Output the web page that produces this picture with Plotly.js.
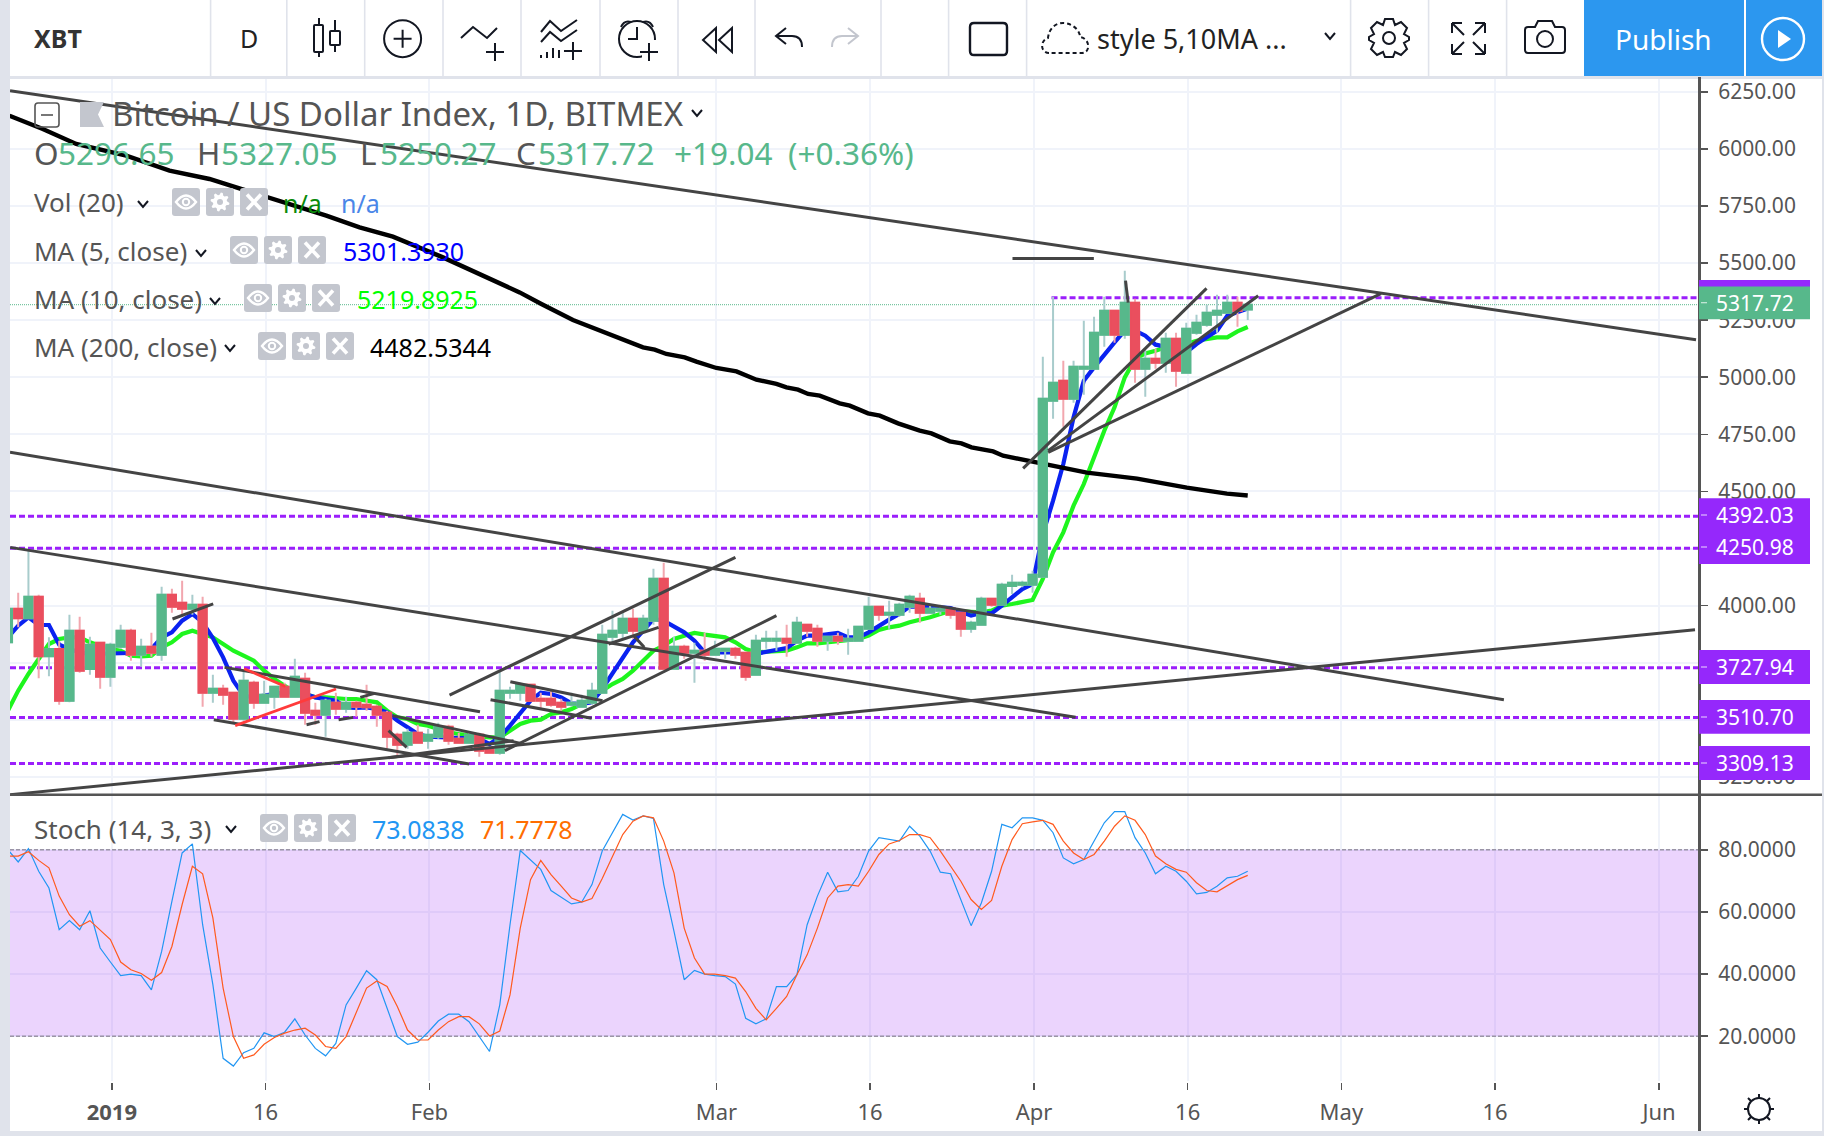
<!DOCTYPE html>
<html><head><meta charset="utf-8">
<script src="https://cdn.plot.ly/plotly-3.0.1.min.js"></script>
<style>html,body{margin:0;padding:0;background:#fff;overflow:hidden}</style></head>
<body><div id="chart" style="width:1824px;height:1136px"></div>
<script>
const dates=["2018-12-22","2018-12-23","2018-12-24","2018-12-25","2018-12-26","2018-12-27","2018-12-28","2018-12-29","2018-12-30","2018-12-31",
"2019-01-01","2019-01-02","2019-01-03","2019-01-04","2019-01-05","2019-01-06","2019-01-07","2019-01-08","2019-01-09","2019-01-10","2019-01-11","2019-01-12","2019-01-13","2019-01-14","2019-01-15","2019-01-16","2019-01-17","2019-01-18","2019-01-19","2019-01-20","2019-01-21","2019-01-22","2019-01-23","2019-01-24","2019-01-25","2019-01-26","2019-01-27","2019-01-28","2019-01-29","2019-01-30","2019-01-31",
"2019-02-01","2019-02-02","2019-02-03","2019-02-04","2019-02-05","2019-02-06","2019-02-07","2019-02-08","2019-02-09","2019-02-10","2019-02-11","2019-02-12","2019-02-13","2019-02-14","2019-02-15","2019-02-16","2019-02-17","2019-02-18","2019-02-19","2019-02-20","2019-02-21","2019-02-22","2019-02-23","2019-02-24","2019-02-25","2019-02-26","2019-02-27","2019-02-28",
"2019-03-01","2019-03-02","2019-03-03","2019-03-04","2019-03-05","2019-03-06","2019-03-07","2019-03-08","2019-03-09","2019-03-10","2019-03-11","2019-03-12","2019-03-13","2019-03-14","2019-03-15","2019-03-16","2019-03-17","2019-03-18","2019-03-19","2019-03-20","2019-03-21","2019-03-22","2019-03-23","2019-03-24","2019-03-25","2019-03-26","2019-03-27","2019-03-28","2019-03-29","2019-03-30","2019-03-31",
"2019-04-01","2019-04-02","2019-04-03","2019-04-04","2019-04-05","2019-04-06","2019-04-07","2019-04-08","2019-04-09","2019-04-10","2019-04-11","2019-04-12","2019-04-13","2019-04-14","2019-04-15","2019-04-16","2019-04-17","2019-04-18","2019-04-19","2019-04-20","2019-04-21","2019-04-22"];
const opens=[3839.5,3986.9,3944.6,4039.4,3778.2,3810.3,3584.1,3890.6,3722.8,3838.1,
3689.2,3820.5,3890.6,3785.5,3820.5,3785.5,4048.2,4013.2,3986.9,4004.4,3619.1,3636.7,3619.1,3505.3,3662.9,3575.4,3601.6,3645.4,3601.6,3680.4,3540.3,3522.8,3575.4,3549.1,3575.4,3566.6,3557.8,3531.6,3435.3,3391.5,3444.0,
3409.0,3426.5,3470.3,3417.8,3400.2,3435.3,3374.0,3356.5,3619.1,3619.1,3654.2,3592.9,3592.9,3575.4,3566.6,3557.8,3575.4,3619.1,3864.3,3881.8,3943.1,3890.6,3934.4,4118.3,3724.2,3820.5,3794.3,3803.0,
3785.5,3803.0,3811.8,3794.3,3698.0,3846.8,3846.8,3855.6,3838.1,3916.9,3899.4,3846.8,3864.3,3846.8,3846.8,3899.4,3995.7,3960.6,3960.6,3995.7,4030.7,3969.4,3978.2,3986.9,3969.4,3899.4,3916.9,4030.7,4004.4,4086.1,4091.9,
4091.9,4126.9,4897.5,4985.1,4906.2,5037.6,5037.6,5186.5,5291.5,5186.5,5326.6,5037.6,5081.4,5063.9,5168.9,5020.1,5195.2,5230.2,5274.0,5282.8,5326.6,5296.65];
const highs=[3986.9,4057.0,4240.9,4048.2,3861.4,3846.8,3960.6,3951.9,3864.3,3838.1,
3838.1,3916.9,3899.4,3855.6,3881.8,4083.2,4074.5,4109.5,4048.2,4039.4,3698.0,3654.2,3619.1,3715.5,3671.7,3671.7,3645.4,3662.9,3768.0,3706.7,3575.4,3592.9,3619.1,3601.6,3584.1,3654.2,3566.6,3540.3,3444.0,3461.5,3479.0,
3461.5,3487.8,3479.0,3444.0,3444.0,3444.0,3382.7,3715.5,3645.4,3662.9,3654.2,3619.1,3627.9,3592.9,3619.1,3610.4,3662.9,3916.9,3978.2,3969.4,3986.9,3960.6,4162.0,4188.3,3864.3,3829.3,3838.1,3881.8,
3846.8,3811.8,3820.5,3794.3,3873.1,3890.6,3890.6,3916.9,3951.9,3916.9,3916.9,3864.3,3881.8,3899.4,3908.1,4039.4,3995.7,4021.9,4013.2,4048.2,4057.0,4004.4,4004.4,3986.9,3969.4,3934.4,4039.4,4030.7,4100.8,4135.7,4109.4,
4153.2,5090.1,5352.8,5072.6,5072.6,5247.7,5265.3,5352.8,5291.5,5466.7,5344.1,5125.2,5125.2,5195.2,5195.2,5239.0,5274.0,5317.8,5361.6,5361.6,5352.8,5327.05];
const lows=[3839.5,3905.2,3944.6,3681.9,3690.7,3566.6,3576.8,3706.7,3698.0,3636.7,
3645.4,3811.8,3759.3,3733.0,3776.8,3759.3,3969.4,3951.9,3960.6,3557.8,3575.4,3566.6,3487.8,3496.6,3549.1,3575.4,3549.1,3601.6,3601.6,3479.0,3479.0,3426.5,3522.8,3531.6,3514.1,3540.3,3470.3,3374.0,3339.0,3374.0,3400.2,
3374.0,3417.8,3391.5,3400.2,3400.2,3339.0,3356.5,3347.7,3592.9,3584.1,3584.1,3549.1,3557.8,3540.3,3557.8,3557.8,3566.6,3619.1,3829.3,3855.6,3855.6,3881.8,3916.9,3724.2,3724.2,3768.0,3662.9,3759.3,
3785.5,3768.0,3768.0,3671.7,3698.0,3811.8,3803.0,3776.8,3838.1,3864.3,3820.5,3803.0,3829.3,3785.5,3846.8,3899.4,3934.4,3899.4,3951.9,3969.4,3925.6,3969.4,3960.6,3943.1,3864.3,3881.8,3916.9,3995.7,4004.4,4051.0,4080.2,
4056.9,4126.9,4818.7,4783.7,4888.7,4923.8,5037.6,5133.9,5151.4,5168.9,4976.3,4915.0,5037.6,5020.1,4958.8,5020.1,5186.5,5221.5,5195.2,5282.8,5221.5,5250.27];
const closes=[3986.9,3944.6,4039.4,3778.2,3810.3,3584.1,3890.6,3715.5,3829.3,3689.2,
3829.3,3890.6,3785.5,3820.5,3794.3,4048.2,3995.7,3986.9,4004.4,3619.1,3636.7,3610.4,3505.3,3671.7,3575.4,3610.4,3645.4,3601.6,3689.2,3531.6,3522.8,3584.1,3549.1,3575.4,3557.8,3555.0,3522.8,3426.5,3391.5,3444.0,3400.2,
3435.3,3470.3,3409.0,3400.2,3435.3,3365.2,3356.5,3627.9,3627.9,3654.2,3584.1,3584.1,3566.6,3557.8,3575.4,3584.1,3627.9,3873.1,3890.6,3943.1,3890.6,3943.1,4118.3,3724.2,3820.5,3794.3,3803.0,3785.5,
3811.8,3811.8,3785.5,3689.2,3846.8,3855.6,3855.6,3838.1,3925.6,3890.6,3846.8,3864.3,3846.8,3855.6,3908.1,3995.7,3960.6,3969.4,4004.4,4039.4,3969.4,3986.9,3986.9,3960.6,3899.4,3925.6,4030.7,4004.4,4092.0,4100.7,4100.7,
4135.7,4906.2,4976.3,4906.2,5046.3,5046.3,5195.2,5291.5,5186.5,5326.6,5037.6,5081.4,5063.9,5168.9,5028.8,5212.7,5239.0,5282.8,5291.5,5326.6,5291.5,5317.72];
const ma5=[3861.4,3912.5,3949.0,3915.4,3915.4,3829.3,3810.3,3795.7,3788.4,3788.4,
3791.4,3791.4,3792.8,3795.7,3810.3,3861.4,3883.3,3934.4,3963.6,3927.1,3858.5,3773.8,3671.7,3606.0,3598.7,3606.0,3613.3,3620.6,3620.6,3613.3,3598.7,3591.4,3584.1,3554.9,3552.0,3554.9,3547.6,3533.0,3496.6,3467.4,3438.2,
3426.5,3423.6,3420.7,3420.7,3420.7,3416.3,3394.4,3423.6,3474.7,3533.0,3584.1,3619.1,3613.3,3598.7,3572.5,3569.5,3576.8,3635.2,3700.9,3773.8,3839.5,3890.6,3941.7,3934.4,3908.1,3883.3,3846.8,3795.7,
3795.7,3795.7,3795.7,3781.1,3788.4,3798.6,3805.9,3814.7,3846.8,3868.7,3868.7,3873.1,3880.4,3861.4,3861.4,3883.3,3912.5,3938.8,3963.6,3995.7,3995.7,3995.7,3992.8,3989.8,3970.9,3956.3,3968.0,3966.5,4000.1,4036.4,4072.9,
4094.8,4313.7,4459.7,4620.2,4824.5,4985.1,5043.4,5101.8,5152.9,5204.0,5204.0,5182.1,5142.7,5133.9,5109.1,5109.1,5145.6,5174.8,5204.0,5269.6,5284.2,5301.39];
const ma10=[3540.3,3627.9,3700.9,3766.6,3832.2,3854.1,3861.4,3861.4,3839.5,3824.9,
3810.3,3803.0,3781.1,3778.2,3781.1,3817.6,3839.5,3876.0,3890.6,3876.0,3861.4,3832.2,3803.0,3781.1,3759.3,3715.5,3679.0,3649.8,3620.6,3613.3,3598.7,3598.7,3594.3,3591.4,3591.4,3584.1,3576.8,3540.3,3511.2,3503.9,3482.0,
3474.7,3460.1,3445.5,3438.2,3430.9,3426.5,3423.6,3423.6,3452.8,3482.0,3496.6,3500.9,3525.7,3533.0,3547.6,3569.5,3591.4,3627.9,3657.1,3679.0,3715.5,3759.3,3803.0,3824.9,3854.1,3868.7,3880.4,3873.1,
3865.8,3861.4,3839.5,3810.3,3795.7,3798.6,3800.1,3803.0,3817.6,3835.2,3835.2,3839.5,3843.9,3849.7,3854.1,3868.7,3893.5,3905.2,3912.5,3927.1,3937.3,3949.0,3963.6,3978.2,3975.2,3970.9,3970.9,3978.2,4000.1,4007.3,4014.6,
4024.8,4116.7,4233.5,4321.0,4437.8,4532.6,4649.4,4766.1,4868.3,4999.6,5079.9,5104.7,5116.4,5131.0,5138.3,5145.6,5160.2,5167.5,5174.8,5174.8,5201.0,5219.89];
// day offset from 2019-01-01
const ma200Days=[-9.85,-6.6,-3.34,1.54,5.77,9.67,12.28,16.19,21.07,24.32,27.57,32.45,36.69,39.94,42.06,45.14,51.98,53.12,54.26,56.05,57.19,59.14,61.1,63.05,65,65.98,67.11,68.09,69.23,71.18,72.16,73.94,75.09,76.87,78.99,80.13,81.92,83.06,84.04,86.15,87.12,90.54,95.3,100.2,105.06,108.97,111];
const ma200=[6145.3,6087,6021.4,5970.2,5904.5,5868.2,5831.4,5776.2,5707.5,5656.3,5615.5,5524.9,5437.4,5371.7,5320.9,5250.9,5130.9,5120.8,5102,5087.1,5068.3,5040.7,5025.8,4989.5,4970.7,4955.8,4945.7,4926.9,4919.4,4885.7,4875.7,4841.9,4831.9,4798.2,4766.2,4754.4,4719.4,4710.6,4693.1,4675.6,4656.8,4627.4,4582.3,4556,4516.7,4490.4,4482.53];
const stochK=[80.0,76.1,80.4,73.1,67.7,54.3,57.2,54.3,60.4,48.4,
43.9,39.5,40.0,39.5,34.9,47.3,63.4,79.0,81.9,55.9,36.6,12.9,10.4,14.7,16.1,21.1,19.9,21.3,25.6,20.4,16.1,13.7,17.7,30.1,35.5,41.1,38.2,29.0,19.9,17.4,18.1,
21.3,24.9,27.1,27.1,24.7,19.9,15.1,30.1,55.9,79.8,76.9,73.7,66.9,64.7,62.6,63.2,68.8,79.6,85.5,91.4,89.6,90.9,90.1,68.8,53.8,38.2,41.2,40.0,
39.5,39.2,36.8,25.8,24.0,25.6,36.0,36.0,39.8,55.9,65.1,72.8,66.5,66.9,71.5,79.6,83.9,83.3,82.8,87.6,84.4,79.6,72.8,72.3,64.0,55.6,62.9,73.1,88.2,87.1,90.3,
90.3,89.5,85.5,77.4,75.5,76.9,82.8,88.7,92.3,92.3,83.9,79.0,72.3,74.7,73.1,69.9,65.8,66.3,68.3,71.0,71.5,73.08];
const stochD=[78.0,78.0,79.4,76.6,74.2,65.1,59.1,55.4,57.2,54.3,
51.1,43.9,41.4,40.2,38.0,40.5,48.9,62.4,74.7,72.3,58.1,35.5,19.9,12.9,14.0,17.4,19.6,21.0,22.0,22.6,20.4,16.7,16.1,19.9,27.4,35.5,37.8,36.0,29.6,22.0,18.8,
18.8,22.0,24.7,26.3,26.3,24.0,20.1,21.7,33.3,54.8,70.4,76.6,72.0,68.3,64.5,63.2,64.3,70.8,78.0,84.9,89.2,90.9,90.3,82.8,72.6,54.8,45.2,40.0,
40.0,39.5,38.7,34.4,29.0,25.3,29.0,32.8,39.8,46.2,54.8,64.5,68.3,68.8,68.3,73.1,78.5,81.9,83.0,84.9,84.9,83.9,79.6,74.7,69.9,64.0,60.8,63.7,74.7,83.3,88.4,
89.0,89.5,88.2,82.8,79.0,76.9,78.5,82.8,87.6,90.9,89.5,84.9,78.0,75.5,73.7,72.8,69.4,66.9,66.5,68.5,70.4,71.78];
// trend lines drawn on the chart: day offset from 2019-01-01 and price at both ends
const trendNames=["L1","L2","L3","L4","a","b","c","d","e","f","h","i","j","m","n","d1","d2","d3","d4","p","q","r","s","t"];
const trendDay0=[-9.8,-9.8,-9.78,-9.78,33.1,38.5,39.03,37.1,48.63,51.07,6.06,11.14,10.09,27.15,27.54,19.14,22.27,24.39,27.15,88.04,89.08,91.52,91.52,99.07];
const trendVal0=[6254.8,4672.1,4255.3,3172.6,3608.3,3365.2,3667.3,3588.5,3832.4,3868.7,3941.8,3729.9,3500.9,3334.6,3518.5,3479,3500.9,3598.6,3452.8,5520.5,4601.2,4678.7,4671.2,5422.9];
const trendDay1=[154.75,136,94.2,154.65,61,65,48.03,46.97,53.5,52.1,10.03,36.07,35.02,39.35,40.04,20.41,23.69,25.78,28.91,95.98,106.98,112.02,124,99.33];
const trendVal1=[5164.6,3588.5,3511.5,3895,4211.5,3956.3,3584,3506.7,3905,3817.5,4007.5,3536,3307,3409,3397.2,3492.2,3511,3616.1,3379.7,5520.5,5389.2,5357.2,5366,5326.6];
const redDay0=[13.05,12.18], redVal0=[3724.2,3474.7], redDay1=[17.07,22.02], redVal1=[3646.7,3635.4];
const levels=[4392.03,4250.98,3727.94,3510.70,3309.13];
const topLevel=5348.5, topLevelStartDay=91.85;
const lastPrice=5317.72;
const xTickVals=["2019-01-01 03:20","2019-01-16 03:20","2019-02-01 03:20","2019-03-01 03:20","2019-03-16 03:20","2019-04-01 03:20","2019-04-16 03:20","2019-05-01 03:20","2019-05-16 03:20","2019-06-01 03:20"];
const xTickText=["<b>2019</b>","16","Feb","Mar","16","Apr","16","May","16","Jun"];
const stochTicks=[20,40,60,80];

[opens,highs,lows,closes,ma5,ma10,stochK,stochD].forEach((a,i)=>{if(a.length!==dates.length)throw new Error('len '+i+' '+a.length+' vs '+dates.length)});

const L=10,R=1699,T=77,B=1081,W=R-L,H=B-T,SEP=794.7;
const px=p=>(p-L)/W, py=p=>(B-p)/H;
const FONT='"Noto Sans", sans-serif';
const GREEN='#57B88B',RED='#EA4F5E',PURPLE='#9B1FFB',LABELP='#9528FB',DARK='#444444',TXT='#555555',GRID='#F0F3FA',BTN='#C3C6CE',ICON='#131722';
const XR=['2018-12-22 04:48','2019-06-05 01:00'];
const dayStr=d=>new Date(Date.UTC(2019,0,1)+d*864e5).toISOString().slice(0,19).replace('T',' ');

const traces=[];
const DASHP='6px,3px';
levels.forEach(v=>traces.push({type:'scatter',mode:'lines',x:[XR[0],XR[1]],y:[v,v],line:{color:PURPLE,width:3,dash:DASHP},zorder:0,hoverinfo:'skip'}));
traces.push({type:'scatter',mode:'lines',x:[dayStr(topLevelStartDay),XR[1]],y:[topLevel,topLevel],line:{color:PURPLE,width:3,dash:DASHP},zorder:0,hoverinfo:'skip'});
traces.push({type:'scatter',mode:'lines',x:XR,y:[lastPrice,lastPrice],line:{color:GREEN,width:1,dash:'1px,1px'},zorder:0,hoverinfo:'skip'});
traces.push({type:'scatter',mode:'lines',x:dates,y:ma10,line:{color:'#1EF51E',width:4.2},zorder:1,hoverinfo:'skip'});
traces.push({type:'scatter',mode:'lines',x:dates,y:ma5,line:{color:'#0A22F0',width:4.2},zorder:1,hoverinfo:'skip'});
traces.push({type:'scatter',mode:'lines',x:ma200Days.map(dayStr),y:ma200,line:{color:'#000000',width:4.4},zorder:1,hoverinfo:'skip'});
traces.push({type:'candlestick',x:dates,open:opens,high:highs,low:lows,close:closes,whiskerwidth:0,zorder:2,hoverinfo:'skip',
  increasing:{line:{color:'#A8CCCC',width:2},fillcolor:'#A8CCCC'},decreasing:{line:{color:'#F2A7AF',width:2},fillcolor:'#F2A7AF'}});
traces.push({type:'candlestick',x:dates,open:opens,close:closes,
  high:opens.map((o,i)=>Math.max(o,closes[i])),low:opens.map((o,i)=>Math.min(o,closes[i])),whiskerwidth:0,zorder:2,hoverinfo:'skip',
  increasing:{line:{color:GREEN,width:2},fillcolor:GREEN},decreasing:{line:{color:RED,width:2},fillcolor:RED}});
trendNames.forEach((n,i)=>traces.push({type:'scatter',mode:'lines',name:n,x:[dayStr(trendDay0[i]),dayStr(trendDay1[i])],y:[trendVal0[i],trendVal1[i]],line:{color:DARK,width:3},zorder:3,hoverinfo:'skip'}));
redDay0.forEach((d,i)=>traces.push({type:'scatter',mode:'lines',x:[dayStr(d),dayStr(redDay1[i])],y:[redVal0[i],redVal1[i]],line:{color:'#FF3B3B',width:2.8},zorder:3,hoverinfo:'skip'}));
traces.push({type:'scatter',mode:'lines',x:dates,y:stochK,xaxis:'x2',yaxis:'y2',line:{color:'#2196F3',width:1.2},hoverinfo:'skip'});
traces.push({type:'scatter',mode:'lines',x:dates,y:stochD,xaxis:'x2',yaxis:'y2',line:{color:'#FF5A1E',width:1.2},hoverinfo:'skip'});

const shapes=[];const anns=[];
const rect=(x0,y0,x1,y1,fill)=>shapes.push({type:'rect',xref:'paper',yref:'paper',x0:px(x0),x1:px(x1),y0:py(y1),y1:py(y0),fillcolor:fill,line:{width:0}});
const pth=d=>{let i=0;return d.replace(/-?\d+(\.\d+)?/g,m=>((i++%2===0)?px(+m):py(+m)).toFixed(5));};
const path=(d,color,width,fill,dash)=>shapes.push({type:'path',xref:'paper',yref:'paper',path:pth(d),line:{color:color,width:width==null?2:width,dash:dash||'solid'},fillcolor:fill||'rgba(0,0,0,0)'});
const circ=(cx,cy,r,color,width,fill)=>shapes.push({type:'circle',xref:'paper',yref:'paper',x0:px(cx-r),x1:px(cx+r),y0:py(cy+r),y1:py(cy-r),line:{color:color,width:width},fillcolor:fill||'rgba(0,0,0,0)'});
const txt=(t,x,y,size,color,anchor)=>anns.push({text:t,xref:'paper',yref:'paper',x:px(x),y:py(y),xanchor:anchor||'left',yanchor:'middle',showarrow:false,font:{family:FONT,size:size,color:color},borderpad:0,borderwidth:0});
const chev=(x,y,c)=>path(`M${x-5} ${y-3} L${x} ${y+3} L${x+5} ${y-3}`,c||ICON,2);
const plus=(x,y,s,w)=>path(`M${x-s} ${y} L${x+s} ${y} M${x} ${y-s} L${x} ${y+s}`,ICON,w||2);
const rrect=(x0,y0,x1,y1,r,c,w,f,dash)=>path(`M${x0+r} ${y0} L${x1-r} ${y0} Q${x1} ${y0} ${x1} ${y0+r} L${x1} ${y1-r} Q${x1} ${y1} ${x1-r} ${y1} L${x0+r} ${y1} Q${x0} ${y1} ${x0} ${y1-r} L${x0} ${y0+r} Q${x0} ${y0} ${x0+r} ${y0} Z`,c,w,f,dash);
const gear=(cx,cy,r1,r2,n)=>{let d='';for(let i=0;i<n*4;i++){const a=i/(n*4)*2*Math.PI+Math.PI/(n*4),r=(i%4<2)?r2:r1;d+=(i?'L':'M')+(cx+r*Math.cos(a)).toFixed(2)+' '+(cy+r*Math.sin(a)).toFixed(2)+' ';}return d+'Z';};
const btn3=(x,y0,y1)=>{
  const cy=(y0+y1)/2;
  rrect(x,y0,x+28,y1,3,BTN,0,BTN);
  path(`M${x+4} ${cy} Q${x+14} ${cy-13} ${x+24} ${cy} Q${x+14} ${cy+13} ${x+4} ${cy} Z`,'#fff',2.4); circ(x+14,cy,3.2,'#fff',2);
  rrect(x+34,y0,x+62,y1,3,BTN,0,BTN); path(gear(x+48,cy,7,9.5,8),'#fff',0,'#fff'); circ(x+48,cy,3,BTN,0,BTN);
  rrect(x+68,y0,x+96,y1,3,BTN,0,BTN); path(`M${x+75} ${cy-7.5} L${x+89} ${cy+7.5} M${x+89} ${cy-7.5} L${x+75} ${cy+7.5}`,'#fff',3.6);
};

// chart frame
rect(0,0,1824,77,'#ffffff');
rect(0,76,1824,79,'#E0E3EB');
rect(0,0,10,1136,'#E0E3EB');
rect(0,1131,1824,1136,'#E0E3EB');
rect(1822,0,1824,1136,'#E0E3EB');
rect(1698,77,1701,1131,'#555555');
rect(10,793.5,1822,796,'#555555');
[210.6,286.8,364.7,443,521,600,678,755,881,948.6,1026.6,1350.6,1428.6,1506.6].forEach(x=>rect(x-.8,0,x+.8,76,'#E0E3EB'));
rect(1584,0,1744,76,'#2C97EF'); rect(1746,0,1822,76,'#2C97EF');
// toolbar glyphs
path('M319 18 L319 25 M319 52 L319 57 M335 20 L335 31 M335 45 L335 52',ICON,2);
rrect(314,25,323,52,1,ICON,2); rrect(330,31,340,45,1,ICON,2);
circ(402.6,38.7,18.5,ICON,2); plus(402.6,38.7,9);
path('M461 38 L473 27 L487 38 L497 28',ICON,2); plus(495,52,9);
path('M541 32 L550 21 L561 31 L577 20 M541 42 L550 32 L561 41 L577 30',ICON,2); path('M541 58 L541 55 M547 58 L547 52 M553 58 L553 48 M559 58 L559 50',ICON,2); plus(573,51,9);
circ(637,39,18,ICON,2); path('M637 27 L637 39 L628 39',ICON,2); path('M621 27 Q624 20 631 22 M653 27 Q650 20 643 22',ICON,2);
rect(642,40,660,63,'#ffffff'); plus(649,52,9);
path('M716 28 L703 40 L716 52 Z M732 28 L719 40 L732 52 Z',ICON,2);
path('M786 28 L776 36 L786 44 M776 36 L792 36 Q802 36 802 47',ICON,2);
path('M848 28 L858 36 L848 44 M858 36 L842 36 Q832 36 832 47','#C3C6CE',2);
rrect(970,23,1007,55,4,ICON,2.4);
path('M1049 53 C1040 53 1040 40 1048 38 C1049 28 1056 23 1063 23 C1072 23 1080 30 1080 37 C1090 38 1091 53 1082 53 Z',ICON,2,null,'4px,3px');
chev(1330,36);
circ(1389,38,6,ICON,2);
path('M1385 19 L1393 19 L1395 25 L1401 22 L1407 28 L1404 34 L1409 37 L1409 40 L1404 43 L1407 49 L1401 55 L1395 52 L1393 57 L1385 57 L1383 52 L1377 55 L1371 49 L1374 43 L1369 40 L1369 37 L1374 34 L1371 28 L1377 22 L1383 25 Z',ICON,2);
path('M1452 23 L1462 23 M1452 23 L1452 33 M1452 23 L1464 35 M1485 23 L1475 23 M1485 23 L1485 33 M1485 23 L1473 35 M1452 54 L1462 54 M1452 54 L1452 44 M1452 54 L1464 42 M1485 54 L1475 54 M1485 54 L1485 44 M1485 54 L1473 42',ICON,2);
path('M1528 27 L1535 27 L1538 21 L1552 21 L1555 27 L1562 27 Q1565 27 1565 30 L1565 50 Q1565 53 1562 53 L1528 53 Q1525 53 1525 50 L1525 30 Q1525 27 1528 27 Z',ICON,2); circ(1545,39,8,ICON,2);
circ(1783,39,21,'#ffffff',2.4); path('M1778 30 L1791 39 L1778 48 Z','#ffffff',0,'#ffffff');
// legend glyphs
rrect(35,103,59,127,3,'#555',1.6); path('M41 115 L53 115','#555',1.6);
path('M80 102 L104 102 L98 114.5 L104 127 L80 127 Z',BTN,0,BTN);
chev(697,113); chev(143,204); chev(201,253); chev(215,301); chev(230,348); chev(231,829);
btn3(172,188,216); btn3(230,236,264); btn3(244,284,312); btn3(258,332,360); btn3(260,814,842);
// price labels
rect(1699,280,1810,287,LABELP);
rect(1699,286.4,1810,319.3,GREEN);
rect(1699,498.2,1810,564,LABELP);
rect(1699,650,1810,684,LABELP);
rect(1699,700,1810,733.8,LABELP);
rect(1699,746,1810,780,LABELP);
[302.7,515,547,667,717,763].forEach(y=>rect(1701,y-.6,1707,y+.6,'rgba(255,255,255,.7)'));
// stochastic band and its bounds, in the pane's own scale
shapes.push({type:'rect',xref:'x2',yref:'y2',x0:XR[0],x1:XR[1],y0:20,y1:80,fillcolor:'rgba(155,39,247,0.2)',line:{width:0},layer:'between'});
[20,80].forEach(v=>shapes.push({type:'line',xref:'x2',yref:'y2',x0:XR[0],x1:XR[1],y0:v,y1:v,line:{color:'#9B95A6',width:1.4,dash:'4px,2px'},layer:'between'}));
// sun
circ(1759,1109,11,ICON,2);
path('M1759 1094 L1759 1098 M1759 1120 L1759 1124 M1744 1109 L1748 1109 M1770 1109 L1774 1109 M1748 1098 L1751 1101 M1767 1117 L1770 1120 M1770 1098 L1767 1101 M1751 1117 L1748 1120',ICON,2);

// texts
txt('<b>XBT</b>',34,38,25,'#333');
txt('D',249,38,25,'#222','center');
txt('style 5,10MA ...',1097,38,27,'#222');
txt('Publish',1663,39,28,'#ffffff','center');
txt('Bitcoin / US Dollar Index, 1D, BITMEX',112,114,33,'#555');
const TS=31.5;
[['O',34,'#555'],['5296.65',58,GREEN],['H',197,'#555'],['5327.05',221,GREEN],['L',360,'#555'],['5250.27',380,GREEN],['C',516,'#555'],['5317.72',538,GREEN],['+19.04',674,GREEN],['(+0.36%)',788,GREEN]].forEach(a=>txt(a[0],a[1],152,TS,a[2]));
txt('Vol (20)',34,202,26,'#555');
txt('n/a',283,203,25,'#0A8A0A'); txt('n/a',341,203,25,'#4A86E8');
txt('MA (5, close)',34,251,26,'#555'); txt('5301.3930',343,251,25,'#0000FF');
txt('MA (10, close)',34,299,26,'#555'); txt('5219.8925',357,299,25,'#00FF00');
txt('MA (200, close)',34,347,26,'#555'); txt('4482.5344',370,347,25,'#000000');
txt('Stoch (14, 3, 3)',34,829,26,'#555'); txt('73.0838',372,829,25,'#2196F3'); txt('71.7778',480,829,25,'#FF6D00');
const lbl=21;
txt('5317.72',1716,303,lbl,'#fff'); txt('4392.03',1716,515,lbl,'#fff'); txt('4250.98',1716,547,lbl,'#fff');
txt('3727.94',1716,667,lbl,'#fff'); txt('3510.70',1716,717,lbl,'#fff'); txt('3309.13',1716,763,lbl,'#fff');

const layout={width:1824,height:1136,margin:{l:10,r:125,t:77,b:55,pad:0,autoexpand:false},
  paper_bgcolor:'#fff',plot_bgcolor:'#fff',showlegend:false,hovermode:false,dragmode:false,boxgap:0.2,boxgroupgap:0,boxmode:'overlay',
  font:{family:FONT,color:TXT},
  xaxis:{type:'date',range:XR,anchor:'y',domain:[0,1],showticklabels:false,ticks:'',tickmode:'array',tickvals:xTickVals,ticktext:xTickText,showgrid:true,gridcolor:GRID,gridwidth:2,zeroline:false,showline:false,rangeslider:{visible:false}},
  xaxis2:{type:'date',range:XR,anchor:'y2',domain:[0,1],matches:'x',tickmode:'array',tickvals:xTickVals,ticktext:xTickText,ticks:'outside',ticklen:7,tickwidth:1.6,tickcolor:TXT,tickfont:{family:FONT,size:22,color:TXT},showgrid:true,gridcolor:GRID,gridwidth:2,zeroline:false,showline:true,linecolor:TXT,linewidth:2.4,ticklabelstandoff:3,rangeslider:{visible:false}},
  yaxis:{domain:[(B-SEP)/H,1],range:[3172.4,6314.7],side:'right',anchor:'x',tick0:0,dtick:250,tickformat:'.2f',ticks:'outside',ticklen:8,tickwidth:1.6,tickcolor:TXT,tickfont:{family:FONT,size:21,color:TXT},showgrid:true,gridcolor:GRID,gridwidth:2,zeroline:false,showline:false,ticklabelstandoff:6},
  yaxis2:{domain:[0,(B-SEP)/H],range:[5.6,97.74],side:'right',anchor:'x2',tickmode:'array',tickvals:stochTicks,tickformat:'.4f',ticks:'outside',ticklen:8,tickwidth:1.6,tickcolor:TXT,tickfont:{family:FONT,size:21,color:TXT},showgrid:true,gridcolor:GRID,gridwidth:2,zeroline:false,showline:false,ticklabelstandoff:6},
  shapes:shapes,annotations:anns};
Plotly.newPlot('chart',traces,layout,{displayModeBar:false,staticPlot:true});
</script></body></html>
